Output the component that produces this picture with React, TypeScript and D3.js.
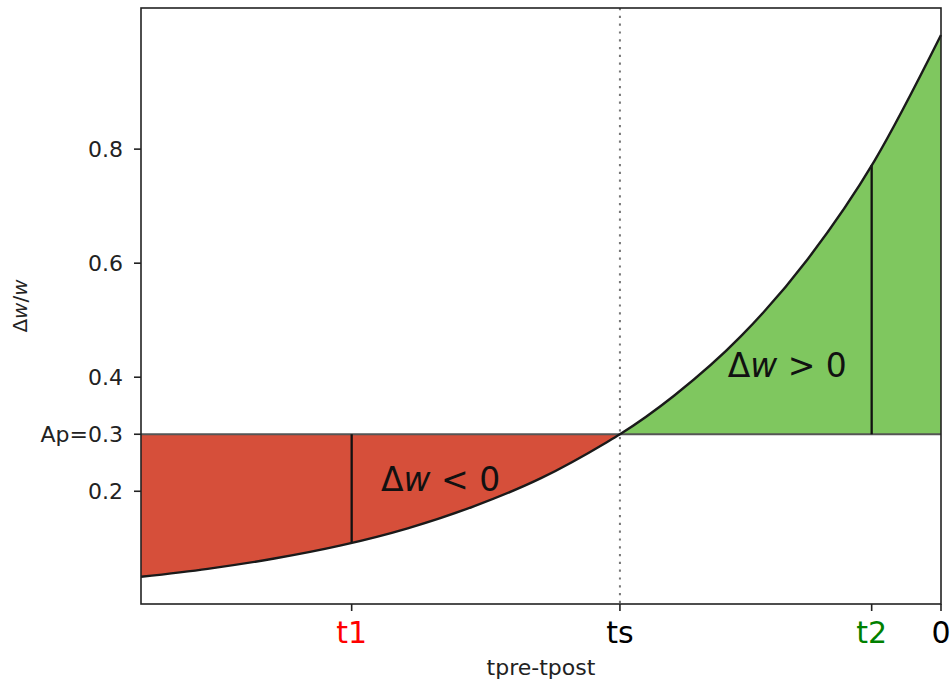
import React from 'react';
import * as d3 from 'd3';

// curve samples (x = tpre - tpost, y = Δw/w)
const curveT = [-3, -2.75, -2.5, -2.25, -2, -1.75, -1.5, -1.25, -1.204, -1, -0.75, -0.5, -0.25, 0];
const curveW = [0.05, 0.064, 0.082, 0.105, 0.135, 0.174, 0.223, 0.287, 0.3, 0.368, 0.472, 0.607, 0.779, 1.0];

const ap = 0.3;
const ts = -1.204;

const xTicks = [-2.21, -1.204, -0.26, 0];
const xTickLabels = ['t1', 'ts', 't2', '0'];
const xTickColors = ['#ff0000', '#000000', '#008000', '#000000'];

const yTicks = [0.2, 0.3, 0.4, 0.6, 0.8];
const yTickLabels = ['0.2', 'Ap=0.3', '0.4', '0.6', '0.8'];

const markT = [-2.21, -0.26];
const markW = [0.11, 0.772];

const W = 951, H = 682;
const m = { left: 141, right: 941, top: 8, bottom: 604 };

export default function App() {
  const x = d3.scaleLinear().domain([-3, 0]).range([m.left, m.right]);
  const y = d3.scaleLinear().domain([0.0023, 1.0475]).range([m.bottom, m.top]);

  const pts = curveT.map((t, i) => [t, curveW[i]] as [number, number]);
  const left = pts.filter(p => p[0] <= ts);
  const right = pts.filter(p => p[0] >= ts);

  const line = d3.line<[number, number]>().x(d => x(d[0])).y(d => y(d[1])).curve(d3.curveMonotoneX);
  const area = d3.area<[number, number]>().x(d => x(d[0])).y0(y(ap)).y1(d => y(d[1])).curve(d3.curveMonotoneX);

  const font = "'DejaVu Sans', sans-serif";

  return (
    <svg width={W} height={H} style={{ position: 'absolute', left: 0, top: 0, background: '#fff' }} fontFamily={font}>
      <path d={area(left) || ''} fill="#d64f3a" />
      <path d={area(right) || ''} fill="#7fc75f" />
      <line x1={m.left} x2={m.right} y1={y(ap)} y2={y(ap)} stroke="#555" strokeWidth={1.8} />
      <line x1={x(ts)} x2={x(ts)} y1={m.top} y2={m.bottom} stroke="#777" strokeWidth={2} strokeDasharray="2.2,5.6" />
      {markT.map((t, i) => (
        <line key={i} x1={x(t)} x2={x(t)} y1={y(ap)} y2={y(markW[i])} stroke="#111" strokeWidth={2.3} />
      ))}
      <path d={line(pts) || ''} fill="none" stroke="#1a1a1a" strokeWidth={2.4} />

      <text x={x(-2.1)} y={y(0.2)} fontSize={33} fill="#111">Δ<tspan fontStyle="italic">w</tspan> &lt; 0</text>
      <text x={x(-0.8)} y={y(0.4)} fontSize={33} fill="#111">Δ<tspan fontStyle="italic">w</tspan> &gt; 0</text>

      <rect x={m.left} y={m.top} width={m.right - m.left} height={m.bottom - m.top} fill="none" stroke="#222" strokeWidth={1.6} />

      {yTicks.map((v, i) => (
        <g key={i}>
          <line x1={m.left - 7} x2={m.left} y1={y(v)} y2={y(v)} stroke="#222" strokeWidth={1.6} />
          <text x={m.left - 18} y={y(v)} dy="0.36em" textAnchor="end" fontSize={22} fill="#222">{yTickLabels[i]}</text>
        </g>
      ))}
      {xTicks.map((v, i) => (
        <g key={i}>
          <line x1={x(v)} x2={x(v)} y1={m.bottom} y2={m.bottom + 7} stroke="#222" strokeWidth={1.6} />
          <text x={x(v)} y={643} textAnchor="middle" fontSize={30} fill={xTickColors[i]}>{xTickLabels[i]}</text>
        </g>
      ))}
      <text x={(m.left + m.right) / 2} y={675} textAnchor="middle" fontSize={22} fill="#222">tpre-tpost</text>
      <text transform={`translate(27,${(m.top + m.bottom) / 2}) rotate(-90)`} textAnchor="middle" fontSize={20} fill="#222">Δ<tspan fontStyle="italic">w</tspan>/<tspan fontStyle="italic">w</tspan></text>
    </svg>
  );
}
